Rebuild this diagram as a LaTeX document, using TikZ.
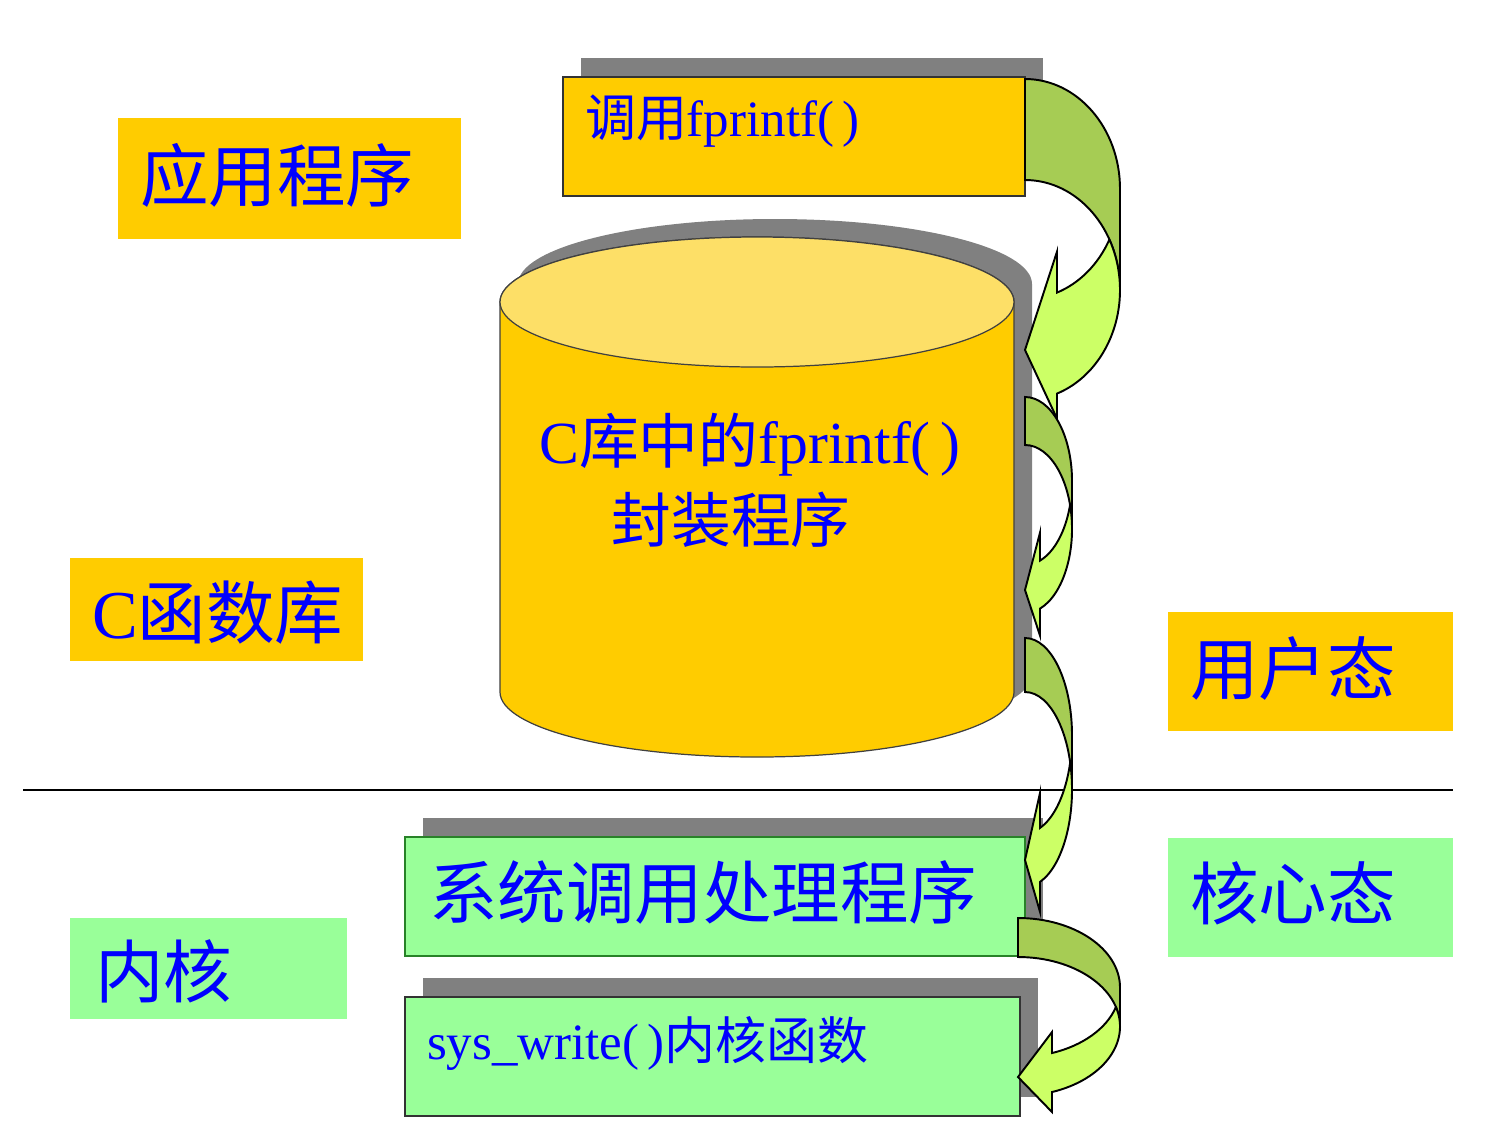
\documentclass[tikz,border=0pt]{standalone}
\usepackage{fontspec}
\setmainfont{Liberation Serif}
\newfontfamily\cjk{Noto Sans CJK SC}
\usetikzlibrary{calc,positioning,shadows}
\definecolor{boxorange}{RGB}{255,204,0}
\definecolor{boxgreen}{RGB}{153,255,153}
\definecolor{txtblue}{RGB}{0,0,255}
\definecolor{shadowgray}{RGB}{128,128,128}
\definecolor{cyltop}{RGB}{253,223,103}
\definecolor{arrdark}{RGB}{166,204,84}
\definecolor{arrlight}{RGB}{204,255,102}
\definecolor{edgegreen}{RGB}{40,130,40}
\newcommand{\zh}[1]{{\cjk #1}}
% curved band arrow: left, top, band, x radius, y radius, head depth, head above, head below, tip y
\newcommand{\curvarr}[9]{%
  \pgfmathsetmacro{\caTi}{asin((#3)/2/(#5))}%
  \pgfmathsetmacro{\caTb}{acos((#6)/(#4))}%
  \pgfmathsetmacro{\caUp}{#2+#5+#5*sin(\caTb)}%
  \pgfmathsetmacro{\caLo}{\caUp+#3}%
  \pgfmathsetmacro{\caMx}{#1+#4*cos(\caTi)}%
  \draw[arrline, fill=arrdark] (#1,#2)
    arc[start angle=-90, end angle=0, x radius=#4, y radius=#5]
    -- ++(0,#3)
    arc[start angle=0, end angle=-90, x radius=#4, y radius=#5] -- cycle;
  \draw[arrline, fill=arrlight] (\caMx,{#2+#5+(#3)/2})
    arc[start angle=\caTi, end angle=\caTb, x radius=#4, y radius=#5]
    -- ({#1+#6},{\caUp-#7}) -- (#1,#9) -- ({#1+#6},{\caLo+#8}) -- ({#1+#6},\caLo)
    arc[start angle=\caTb, end angle=-\caTi, x radius=#4, y radius=#5] -- cycle;
}

\begin{document}
\begin{tikzpicture}[x=0.02cm, y=-0.02cm,
  every node/.style={inner sep=0pt, outer sep=0pt},
  tagbox/.style={rectangle, fill=#1},
  procbox/.style={rectangle, fill=#1, line width=1pt,
    drop shadow={shadow xshift=0.36cm, shadow yshift=0.38cm, opacity=1, fill=shadowgray}},
  txtbig/.style={anchor=west, text=txtblue, font=\fontsize{39}{41}\selectfont},
  txtmid/.style={text=txtblue, font=\fontsize{34}{37}\selectfont},
  txtsmall/.style={anchor=west, text=txtblue, font=\fontsize{29}{32}\selectfont},
  arrline/.style={draw=black, line width=1.1pt},
  cylline/.style={draw=black!75, line width=0.7pt}]
  \useasboundingbox (0,0) rectangle (1510,1144);

  % label boxes
  \node[tagbox=boxorange, minimum width=6.86cm, minimum height=2.42cm] (app) at (289.5,178.5) {};
  \node[txtbig] (appT) at ($(app.west)+(22,-3)$) {\zh{应用程序}};
  \node[tagbox=boxorange, minimum width=5.86cm, minimum height=2.06cm] (clib) at (216.5,609.5) {};
  \node[txtbig] (clibT) at ($(clib.west)+(22,3)$) {C\zh{函数库}};
  \node[tagbox=boxorange, minimum width=5.7cm, minimum height=2.38cm] (user) at (1310.5,671.5) {};
  \node[txtbig] (userT) at ($(user.west)+(22,-3)$) {\zh{用户态}};
  \node[tagbox=boxgreen, minimum width=5.7cm, minimum height=2.38cm] (kstate) at (1310.5,897.5) {};
  \node[txtbig] (kstateT) at ($(kstate.west)+(22,-4)$) {\zh{核心态}};
  \node[tagbox=boxgreen, minimum width=5.54cm, minimum height=2.02cm] (kern) at (208.5,968.5) {};
  \node[txtbig] (kernT) at ($(kern.west)+(25,3)$) {\zh{内核}};

  % process boxes
  \node[procbox=boxorange, draw=black!80, minimum width=9.24cm, minimum height=2.38cm] (call) at (794,136.5) {};
  \node[txtsmall] (callT) at ($(call.west)+(22,-15)$) {\zh{调用}fprintf(\,)};
  \node[procbox=boxgreen, draw=edgegreen, minimum width=12.4cm, minimum height=2.38cm] (sysh) at (715,896.5) {};
  \node[txtbig] (syshT) at ($(sysh.west)+(24,-4)$) {\zh{系统调用处理程序}};
  \node[procbox=boxgreen, draw=black!80, minimum width=12.3cm, minimum height=2.38cm] (sysw) at (712.5,1056.5) {};
  \node[txtsmall] (syswT) at ($(sysw.west)+(22,-13)$) {sys\_write(\,)\zh{内核函数}};

  % library cylinder
  \fill[shadowgray] (518,284) -- (518,674)
    arc[start angle=180, end angle=0, x radius=257, y radius=65]
    -- (1032,284) arc[start angle=0, end angle=-180, x radius=257, y radius=65] -- cycle;
  \draw[cylline, fill=boxorange] (500,302) -- (500,692)
    arc[start angle=180, end angle=0, x radius=257, y radius=65]
    -- (1014,302) arc[start angle=0, end angle=-180, x radius=257, y radius=65] -- cycle;
  \draw[cylline, fill=cyltop] (757,302) ellipse[x radius=257, y radius=65];
  \coordinate (cyl) at (757,480);
  \node[txtmid] (cylA) at ($(cyl)+(-7,-35)$) {C\zh{库中的}fprintf(\,)};
  \node[txtmid] (cylB) at ($(cylA)+(-19,75)$) {\zh{封装程序}};

  % user / kernel border
  \coordinate (sepL) at (23,790);
  \coordinate (sepR) at (1453,790);
  \draw[line width=1pt] (sepL) -- (sepR);

  % call flow
  \curvarr{1025}{79}{101}{95}{110}{32}{41}{25}{350}
  \curvarr{1025}{397}{48}{47}{84}{15}{28}{27}{590}
  \curvarr{1025}{638}{54}{47}{97.5}{15}{35}{30}{860}
  \curvarr{1018}{918}{39}{102}{69.5}{34}{21}{20}{1077}
\end{tikzpicture}
\end{document}
